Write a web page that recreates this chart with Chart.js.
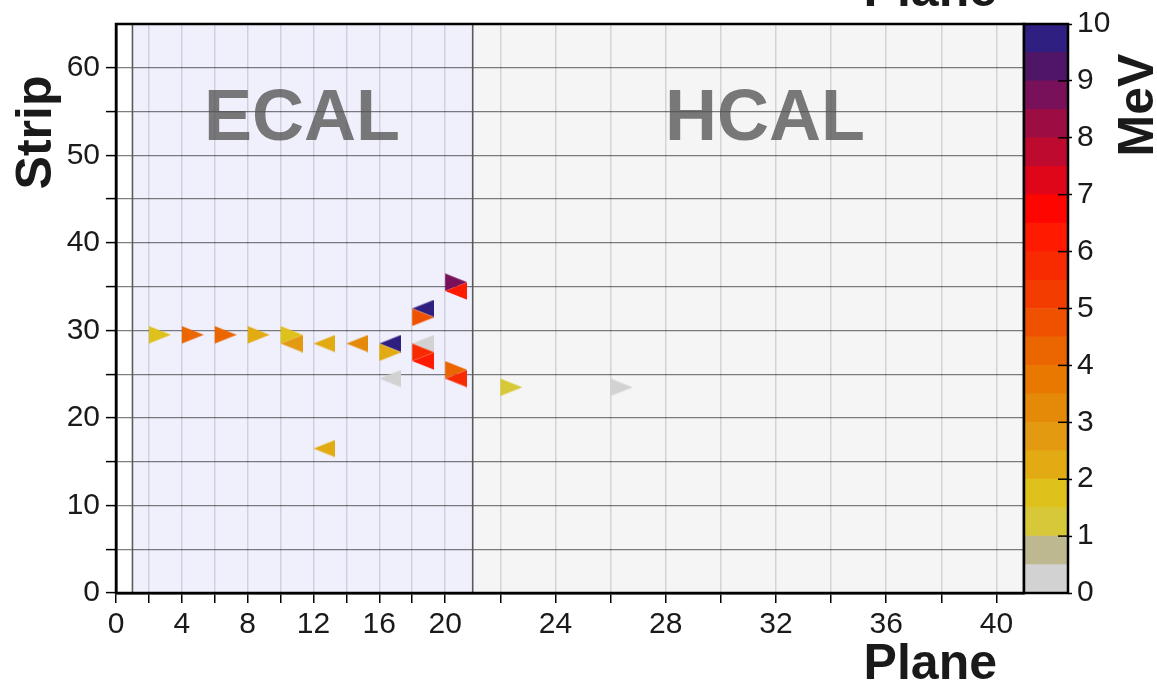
<!DOCTYPE html>
<html>
<head>
<meta charset="utf-8">
<title>ECAL / HCAL hits</title>
<script src="https://cdn.jsdelivr.net/npm/chart.js@4.4.1/dist/chart.umd.min.js"></script>
<style>
  html, body { margin: 0; padding: 0; background: #fff; overflow: hidden; }
  #wrap { position: relative; width: 1157px; height: 681px; }
  #display { position: absolute; left: 0; top: 0; }
  #colorbar { position: absolute; left: 1010px; top: 0; }
</style>
</head>
<body>
<div id="wrap">
  <canvas id="display" width="1157" height="681"></canvas>
  <canvas id="colorbar" width="147" height="681"></canvas>
</div>
<script>
// hits: plane (left edge of the marker), strip, energy in MeV, view (R = right-pointing, L = left-pointing)
const hitPlane  = [2, 4, 6, 8, 10, 10, 12, 14, 16, 16, 16, 18, 18, 18, 18, 18, 20, 20, 20, 20, 12, 22, 26];
const hitStrip  = [29.5, 29.5, 29.5, 29.5, 29.5, 28.5, 28.5, 28.5, 28.5, 27.5, 24.5, 32.5, 31.5, 28.5, 27.5, 26.5, 35.5, 34.5, 25.5, 24.5, 16.5, 23.5, 23.5];
const hitEnergy = [1.7, 4.2, 4.3, 2.2, 1.8, 2.8, 2.3, 3.2, 9.8, 2.1, 0.3, 9.8, 4.8, 0.3, 5.7, 6.3, 8.8, 6.4, 4.4, 5.6, 2.2, 1.2, 0.3];
const hitView   = ["R", "R", "R", "R", "R", "L", "L", "L", "L", "R", "L", "L", "R", "L", "R", "L", "R", "L", "R", "L", "L", "R", "R"];

const planeTicks  = [0, 2, 4, 6, 8, 10, 12, 14, 16, 18, 20, 22, 24, 26, 28, 30, 32, 34, 36, 38, 40];
const stripTicks  = [0, 5, 10, 15, 20, 25, 30, 35, 40, 45, 50, 55, 60];
const energyTicks = [0, 1, 2, 3, 4, 5, 6, 7, 8, 9, 10];

const regionNames = ["ECAL", "HCAL"];
const regionStart = [1, 21];
const regionEnd   = [21, 41];

// colour scale, 0.5 MeV per bin, from 0 MeV up to 10 MeV
const energyBinWidth = 0.5;
const energyColors = [
  "#d2d2d2", "#bdb88f", "#d7c83a", "#dfc11c", "#e2ab14",
  "#e49a10", "#e58a08", "#e87800", "#ec6600", "#ee5200",
  "#f23c00", "#f82a00", "#ff1a00", "#ff0500", "#de0618",
  "#bd0a2e", "#9c0d44", "#78115a", "#4f1668", "#2e1f80"
];

const FONT = "'Liberation Sans', Arial, Helvetica, sans-serif";

function energyColor(e) {
  const bin = Math.min(energyColors.length - 1, Math.floor(e / energyBinWidth));
  return energyColors[bin];
}

// the ECAL planes are packed tighter than the HCAL ones
const ECAL_PLANES = 20;
const HCAL_PITCH = 1.675;

function planeToUnits(v) {
  return v <= ECAL_PLANES ? v : ECAL_PLANES + (v - ECAL_PLANES) * HCAL_PITCH;
}
function unitsToPlane(u) {
  return u <= ECAL_PLANES ? u : ECAL_PLANES + (u - ECAL_PLANES) / HCAL_PITCH;
}

class PlaneScale extends Chart.LinearScale {
  getPixelForValue(value) {
    const lo = planeToUnits(this.min);
    const hi = planeToUnits(this.max);
    return this.getPixelForDecimal((planeToUnits(value) - lo) / (hi - lo));
  }
  getValueForPixel(pixel) {
    const lo = planeToUnits(this.min);
    const hi = planeToUnits(this.max);
    return unitsToPlane(lo + this.getDecimalForPixel(pixel) * (hi - lo));
  }
}
PlaneScale.id = "plane";
PlaneScale.defaults = Chart.LinearScale.defaults;
Chart.register(PlaneScale);

// triangle markers; the canvas is twice as wide so the marker starts at the plane position
const markerCache = {};
function triangleMarker(view, color) {
  const key = view + color;
  if (markerCache[key]) return markerCache[key];
  const c = document.createElement("canvas");
  c.width = 44;
  c.height = 18;
  const g = c.getContext("2d");
  g.fillStyle = color;
  g.beginPath();
  if (view === "R") {
    g.moveTo(22, 0.25);
    g.lineTo(22, 17.75);
    g.lineTo(44, 9);
  } else {
    g.moveTo(22, 9);
    g.lineTo(44, 0.25);
    g.lineTo(44, 17.75);
  }
  g.closePath();
  g.fill();
  markerCache[key] = c;
  return c;
}

const detectorPlugin = {
  id: "detector",
  beforeDraw(chart) {
    const { ctx, chartArea: a, scales: { x } } = chart;
    const fills = ["#f0f0fc", "#f5f5f5"];
    ctx.save();
    regionStart.forEach((start, i) => {
      const x0 = x.getPixelForValue(start);
      const x1 = x.getPixelForValue(regionEnd[i]);
      ctx.fillStyle = fills[i];
      ctx.fillRect(x0, a.top, x1 - x0, a.bottom - a.top);
    });
    ctx.restore();
  },
  beforeDatasetsDraw(chart) {
    const { ctx, chartArea: a, scales: { x, y } } = chart;
    ctx.save();
    ctx.strokeStyle = "#5a5a5a";
    ctx.lineWidth = 1.6;
    regionStart.forEach((start) => {
      const px = x.getPixelForValue(start);
      ctx.beginPath();
      ctx.moveTo(px, a.top);
      ctx.lineTo(px, a.bottom);
      ctx.stroke();
    });
    ctx.fillStyle = "rgba(80, 80, 80, 0.76)";
    ctx.font = "bold 72px " + FONT;
    ctx.textAlign = "center";
    ctx.textBaseline = "alphabetic";
    const labelPlane = [11.3, 31.6];
    regionNames.forEach((name, i) => {
      ctx.fillText(name, x.getPixelForValue(labelPlane[i]), y.getPixelForValue(51.8));
    });
    ctx.restore();
  },
  afterDraw(chart) {
    const { ctx, chartArea: a } = chart;
    ctx.save();
    ctx.strokeStyle = "#000";
    ctx.lineWidth = 2.5;
    ctx.strokeRect(a.left, a.top, a.right - a.left, a.bottom - a.top);

    ctx.fillStyle = "#1a1a1a";
    ctx.font = "bold 50px " + FONT;
    ctx.textAlign = "right";
    ctx.textBaseline = "alphabetic";
    ctx.fillText("Plane", 997, 679);
    ctx.fillText("Plane", 997, 6);

    ctx.translate(50.5, 132.5);
    ctx.rotate(-Math.PI / 2);
    ctx.textAlign = "center";
    ctx.fillText("Strip", 0, 0);
    ctx.restore();
  }
};

new Chart(document.getElementById("display"), {
  type: "scatter",
  data: {
    datasets: [{
      data: hitPlane.map((p, i) => ({ x: p, y: hitStrip[i] })),
      pointStyle: (c) => triangleMarker(hitView[c.dataIndex], energyColor(hitEnergy[c.dataIndex])),
      pointRadius: 5,
      pointHoverRadius: 5,
    }],
  },
  options: {
    responsive: false,
    animation: false,
    events: [],
    layout: { padding: { top: 24, right: 133, left: 0, bottom: 0 } },
    plugins: { legend: { display: false }, tooltip: { enabled: false } },
    scales: {
      x: {
        type: "plane",
        min: 0,
        max: 41,
        afterBuildTicks: (s) => { s.ticks = planeTicks.map((v) => ({ value: v })); },
        afterFit: (s) => { s.height = 88; },
        ticks: {
          autoSkip: false,
          maxRotation: 0,
          padding: 4,
          color: "#1a1a1a",
          font: { family: FONT, size: 30 },
          callback: (v) => (v % 4 === 0 ? String(v) : ""),
        },
        grid: { color: "rgba(40, 40, 80, 0.16)", lineWidth: 1.5, tickLength: 10, tickColor: "#000", tickWidth: 1.5 },
        border: { color: "#000", width: 2.5 },
      },
      y: {
        min: 0,
        max: 65,
        afterBuildTicks: (s) => { s.ticks = stripTicks.map((v) => ({ value: v })); },
        afterFit: (s) => { s.width = 116; },
        ticks: {
          autoSkip: false,
          padding: 6,
          color: "#1a1a1a",
          font: { family: FONT, size: 30 },
          callback: (v) => (v % 10 === 0 ? String(v) : ""),
        },
        grid: { color: "rgba(0, 0, 0, 0.5)", lineWidth: 1.2, tickLength: 10, tickColor: "#000", tickWidth: 1.5 },
        border: { color: "#000", width: 2.5 },
      },
    },
  },
  plugins: [detectorPlugin],
});

const colorbarPlugin = {
  id: "colorbarFrame",
  afterDraw(chart) {
    const { ctx, chartArea: a, scales: { y } } = chart;
    ctx.save();
    ctx.strokeStyle = "#000";
    ctx.lineWidth = 1.5;
    energyTicks.forEach((v) => {
      const py = y.getPixelForValue(v);
      ctx.beginPath();
      ctx.moveTo(a.right - 10, py);
      ctx.lineTo(a.right, py);
      ctx.stroke();
    });
    ctx.lineWidth = 2.5;
    ctx.strokeRect(a.left, a.top, a.right - a.left, a.bottom - a.top);

    ctx.fillStyle = "#1a1a1a";
    ctx.font = "bold 50px " + FONT;
    ctx.textAlign = "center";
    ctx.textBaseline = "alphabetic";
    ctx.translate(143, 105);
    ctx.rotate(-Math.PI / 2);
    ctx.fillText("MeV", 0, 0);
    ctx.restore();
  }
};

new Chart(document.getElementById("colorbar"), {
  type: "bar",
  data: {
    labels: ["MeV"],
    datasets: energyColors.map((color) => ({
      data: [energyBinWidth],
      backgroundColor: color,
      borderWidth: 0,
      barPercentage: 1,
      categoryPercentage: 1,
    })),
  },
  options: {
    responsive: false,
    animation: false,
    events: [],
    layout: { padding: { left: 14, top: 24, bottom: 88, right: 0 } },
    plugins: { legend: { display: false }, tooltip: { enabled: false } },
    scales: {
      x: { display: false, stacked: true },
      y: {
        stacked: true,
        position: "right",
        min: 0,
        max: 10,
        afterBuildTicks: (s) => { s.ticks = energyTicks.map((v) => ({ value: v })); },
        afterFit: (s) => { s.width = 89; },
        ticks: { padding: 5, color: "#1a1a1a", font: { family: FONT, size: 30 } },
        grid: { drawOnChartArea: false, tickLength: 4, tickColor: "#000", tickWidth: 1.5 },
        border: { display: false },
      },
    },
  },
  plugins: [colorbarPlugin],
});
</script>
</body>
</html>
